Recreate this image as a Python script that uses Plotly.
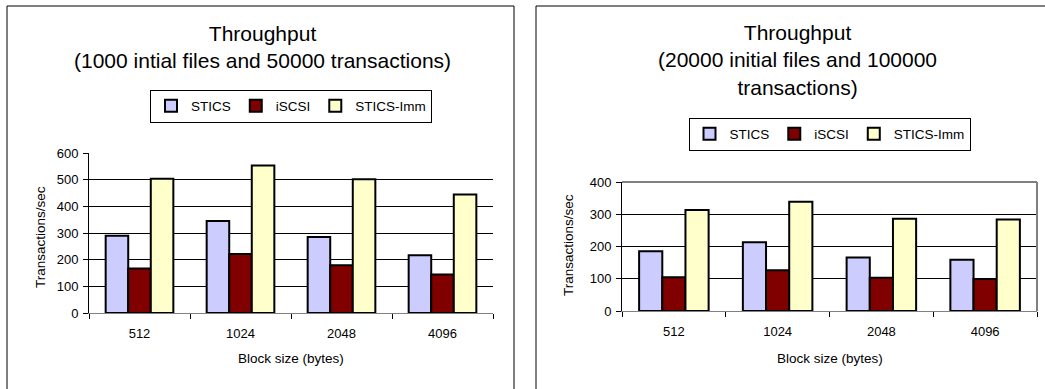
import plotly.graph_objects as go

W, H = 1045, 389

block_sizes = ["512", "1024", "2048", "4096"]
series_names = ["STICS", "iSCSI", "STICS-Imm"]
series_colors = ["#CCCCFF", "#800000", "#FFFFCC"]

# Panel 1: 1000 initial files and 50000 transactions
p1_stics = [290, 345, 285, 217]
p1_iscsi = [167, 221, 179, 144]
p1_imm = [503, 553, 502, 444]

# Panel 2: 20000 initial files and 100000 transactions
p2_stics = [185, 213, 166, 159]
p2_iscsi = [105, 126, 103, 99]
p2_imm = [313, 339, 286, 284]

title1 = "Throughput<br>(1000 intial files and 50000 transactions)"
title2 = "Throughput<br>(20000 initial files and 100000<br>transactions)"
x_title = "Block size (bytes)"
y_title = "Transactions/sec"

FONT = "Liberation Sans, Arial, sans-serif"


def px_x(p):
    return p / W


def px_y(p):
    return 1 - p / H


fig = go.Figure()

for vals, name, color in zip([p1_stics, p1_iscsi, p1_imm], series_names, series_colors):
    fig.add_trace(go.Bar(x=block_sizes, y=vals, name=name, xaxis="x", yaxis="y",
                         marker=dict(color=color, line=dict(color="black", width=2)),
                         legend="legend"))
for vals, name, color in zip([p2_stics, p2_iscsi, p2_imm], series_names, series_colors):
    fig.add_trace(go.Bar(x=block_sizes, y=vals, name=name, xaxis="x2", yaxis="y2",
                         marker=dict(color=color, line=dict(color="black", width=2)),
                         legend="legend2"))

tickfont = dict(family=FONT, size=13, color="black")

axis_common_x = dict(type="category", showgrid=False, showline=True, linecolor="#808080",
                     linewidth=1, ticks="outside", tickson="boundaries", ticklen=5,
                     tickcolor="black", tickfont=tickfont, ticklabelstandoff=8,
                     automargin=False, fixedrange=True)
axis_common_y = dict(dtick=100, showgrid=True, gridcolor="black", gridwidth=1, showline=True,
                     linecolor="black", linewidth=1, ticks="outside", ticklen=5,
                     tickcolor="black", tickfont=tickfont, ticklabelstandoff=2,
                     zeroline=False, automargin=False, fixedrange=True)

fig.update_layout(
    width=W, height=H,
    margin=dict(l=0, r=0, t=0, b=0),
    paper_bgcolor="white", plot_bgcolor="white",
    barmode="group", bargap=0.33, bargroupgap=0,
    font=dict(family=FONT, color="black"),
    xaxis=dict(domain=[px_x(89), px_x(493)], anchor="y", **axis_common_x),
    yaxis=dict(domain=[px_y(313), px_y(153)], anchor="x", range=[0, 600], **axis_common_y),
    xaxis2=dict(domain=[px_x(622), px_x(1037)], anchor="y2", **axis_common_x),
    yaxis2=dict(domain=[px_y(311), px_y(182)], anchor="x2", range=[0, 400], **axis_common_y),
    legend=dict(orientation="h", x=px_x(291), y=px_y(106), xanchor="center", yanchor="middle",
                bordercolor="black", borderwidth=1, font=dict(family=FONT, size=13.5),
                itemwidth=30, tracegroupgap=0, bgcolor="white"),
    legend2=dict(orientation="h", x=px_x(829.5), y=px_y(134), xanchor="center", yanchor="middle",
                 bordercolor="black", borderwidth=1, font=dict(family=FONT, size=13.5),
                 itemwidth=30, tracegroupgap=0, bgcolor="white"),
    showlegend=True,
)

annotations = [
    dict(text=title1, x=px_x(262), y=px_y(46.5), xanchor="center", yanchor="middle",
         font=dict(size=21)),
    dict(text=title2, x=px_x(797), y=px_y(60), xanchor="center", yanchor="middle",
         font=dict(size=21)),
    dict(text=x_title, x=px_x(291), y=px_y(358), xanchor="center", yanchor="middle",
         font=dict(size=13.5)),
    dict(text=x_title, x=px_x(829.5), y=px_y(358), xanchor="center", yanchor="middle",
         font=dict(size=13.5)),
    dict(text=y_title, x=px_x(40), y=px_y(237), xanchor="center", yanchor="middle",
         textangle=-90, font=dict(size=13.5)),
    dict(text=y_title, x=px_x(568), y=px_y(245), xanchor="center", yanchor="middle",
         textangle=-90, font=dict(size=13.5)),
]
for a in annotations:
    a.update(xref="paper", yref="paper", showarrow=False)
fig.update_layout(annotations=annotations)

shapes = [
    # left panel border
    dict(type="line", x0=px_x(7), x1=px_x(7), y0=px_y(6), y1=px_y(400)),
    dict(type="line", x0=px_x(7), x1=px_x(514), y0=px_y(6), y1=px_y(6)),
    dict(type="line", x0=px_x(514), x1=px_x(514), y0=px_y(6), y1=px_y(400)),
    # right panel border
    dict(type="line", x0=px_x(536), x1=px_x(536), y0=px_y(6), y1=px_y(400)),
    dict(type="line", x0=px_x(536), x1=px_x(1060), y0=px_y(6), y1=px_y(6)),
    # right plot-area frame (gray top and right)
    dict(type="line", xref="x2 domain", yref="y2 domain", x0=0, x1=1, y0=1, y1=1,
         line=dict(color="#808080", width=2), layer="above"),
    dict(type="line", xref="x2 domain", yref="y2 domain", x0=1, x1=1, y0=0, y1=1,
         line=dict(color="#808080", width=2), layer="above"),
    # hide top gridline on left chart
    dict(type="line", xref="x domain", yref="y domain", x0=0.003, x1=1.01, y0=1, y1=1,
         line=dict(color="white", width=2), layer="above"),
]
for s in shapes:
    s.setdefault("xref", "paper")
    s.setdefault("yref", "paper")
    s.setdefault("line", dict(color="black", width=1))
fig.update_layout(shapes=shapes)

fig.write_html("out.html")
